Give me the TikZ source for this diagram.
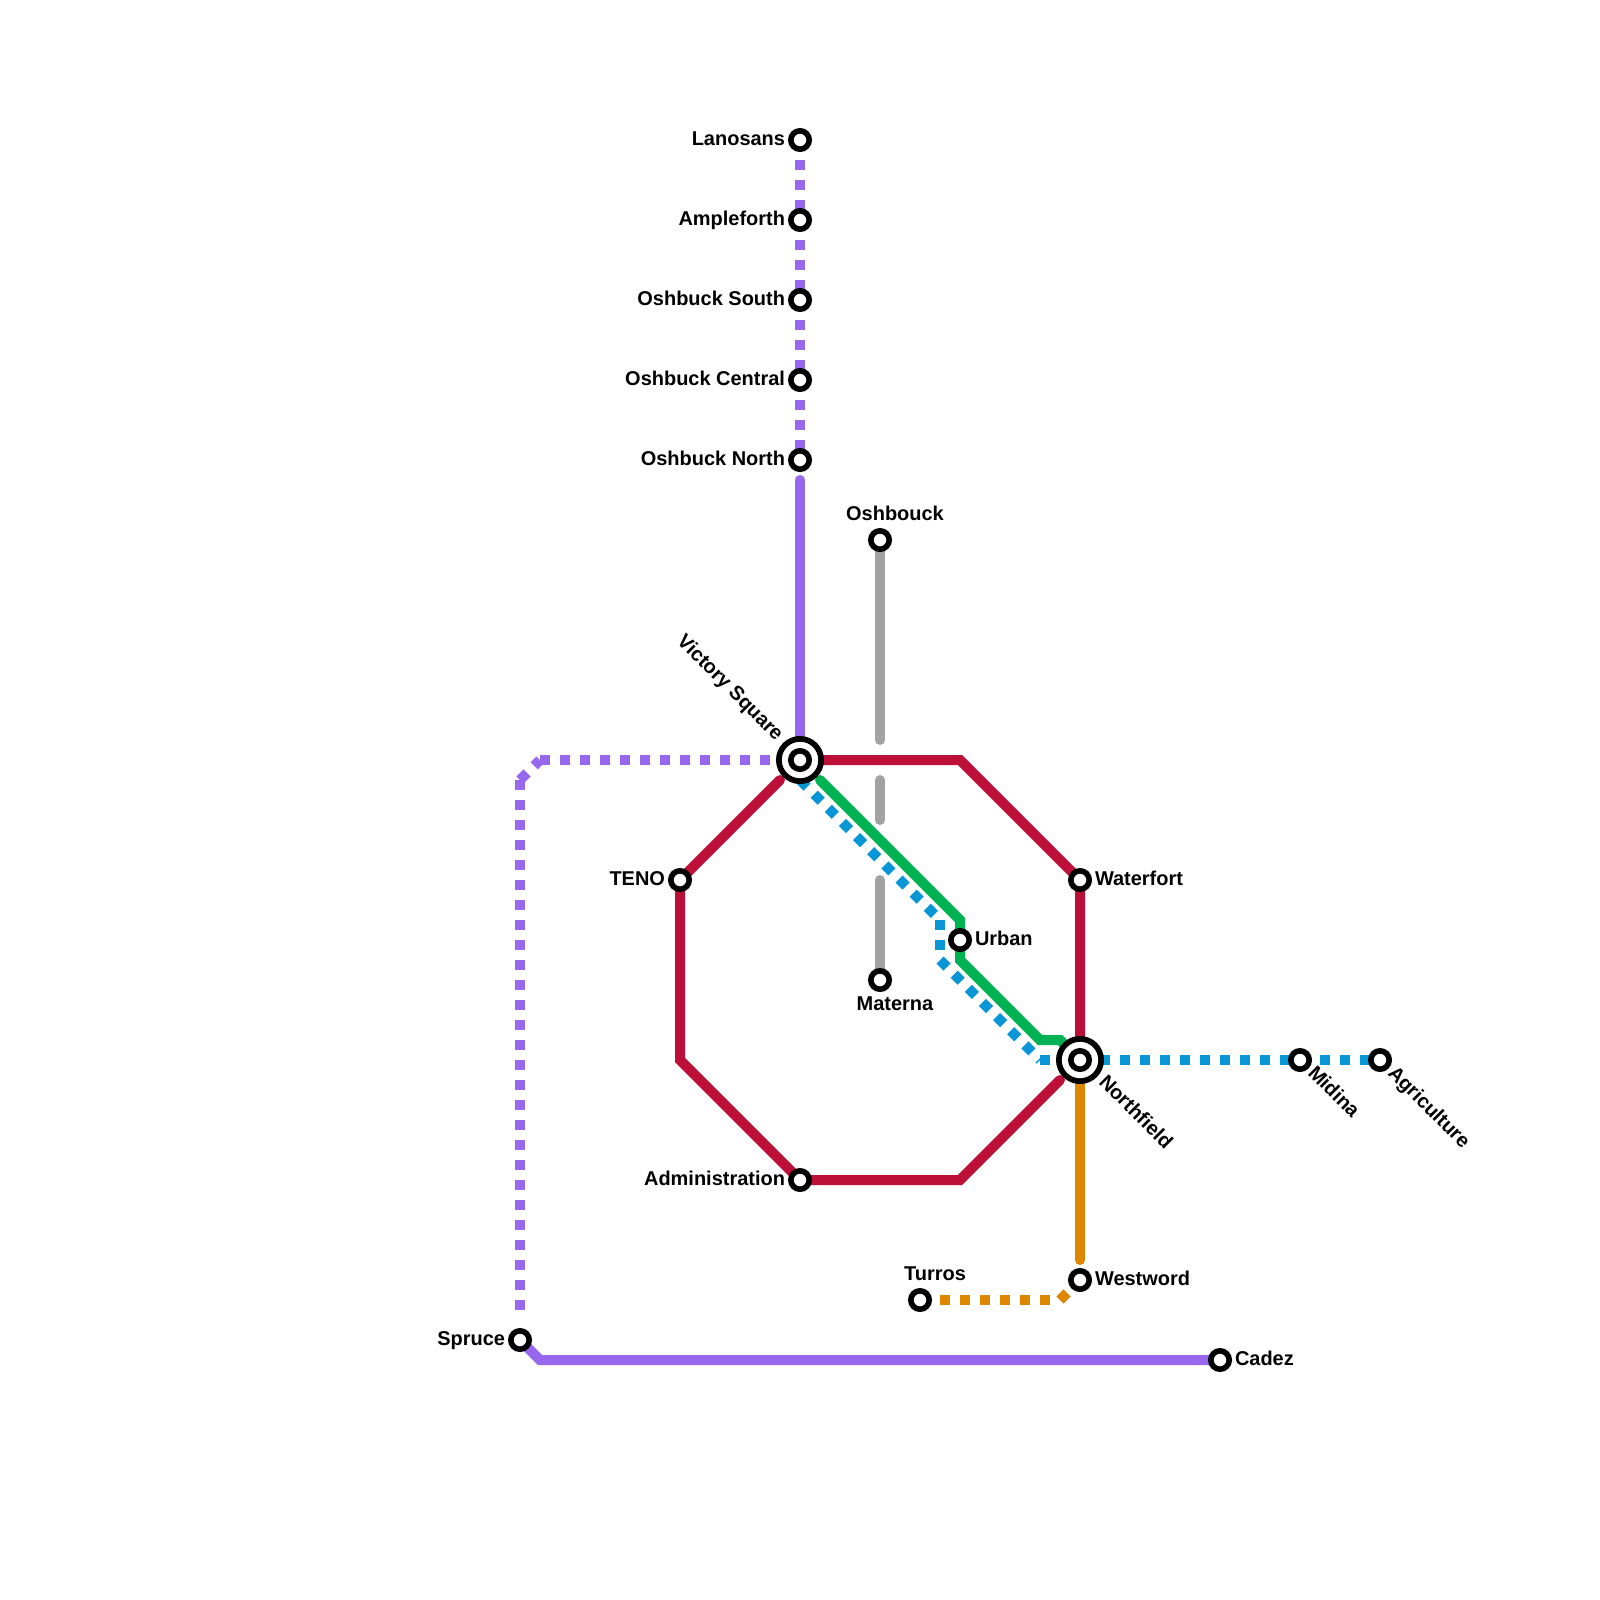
\documentclass[tikz,border=0pt]{standalone}
\usepackage{fontspec}
\setmainfont{Liberation Sans}
\usetikzlibrary{backgrounds}
\definecolor{lpurple}{HTML}{9768EE}
\definecolor{lred}{HTML}{BD1038}
\definecolor{lgreen}{HTML}{00B251}
\definecolor{lblue}{HTML}{0896D7}
\definecolor{lorange}{HTML}{DF8600}
\definecolor{lgray}{HTML}{A2A2A2}
\tikzset{
  solidline/.style={line width=0.25cm,line cap=round,line join=miter},
  dotline/.style={line width=0.25cm,line cap=butt,dash pattern=on 0.25cm off 0.25cm},
  stop/.style={circle,draw=black,fill=white,line width=0.14cm,minimum size=0.46cm,inner sep=0pt,outer sep=0pt},
  hubring/.style={circle,draw=black,fill=white,line width=0.1425cm,minimum size=1.0575cm,inner sep=0pt,outer sep=0pt},
  lab/.style={font=\fontsize{14.2pt}{16pt}\selectfont\bfseries,inner sep=0pt,outer sep=0pt,text=black},
  lr/.style={lab,anchor=base east},
  ll/.style={lab,anchor=base west},
  lc/.style={lab,anchor=base},
}
\begin{document}
\begin{tikzpicture}[x=0.025cm,y=-0.025cm]
\useasboundingbox (0,0) rectangle (1600,1600);
% waypoints
\coordinate (p1) at (540,760);
\coordinate (p2) at (520,780);
\coordinate (p7) at (520,1320);
\coordinate (p3) at (800,780);
\coordinate (p4) at (940,920);
\coordinate (p5) at (940,960);
\coordinate (p6) at (1040,1060);
\coordinate (g1) at (820,780);
\coordinate (g2) at (960,920);
\coordinate (g3) at (960,960);
\coordinate (g4) at (1040,1040);
\coordinate (g5) at (1060,1040);
\coordinate (r1) at (780,780);
\coordinate (r2) at (680,1060);
\coordinate (r3) at (960,1180);
\coordinate (r4) at (1060,1080);
\coordinate (r5) at (820,760);
\coordinate (r6) at (960,760);
\coordinate (r7) at (1080,1040);
\coordinate (v1) at (800,480);
\coordinate (v2) at (800,740);
\coordinate (a1) at (880,740);
\coordinate (a2) at (880,780);
\coordinate (a3) at (880,820);
\coordinate (a4) at (880,880);
\coordinate (o1) at (1080,1260);
\coordinate (o2) at (1060,1300);
\coordinate (s1) at (540,1360);
% stations
\node[hubring] (vichub) at (800,760) {};
\node[stop] (vic) at (800,760) {};
\node[hubring] (norhub) at (1080,1060) {};
\node[stop] (nor) at (1080,1060) {};
\node[stop] (lan) at (800,140) {};
\node[stop] (amp) at (800,220) {};
\node[stop] (oss) at (800,300) {};
\node[stop] (osc) at (800,380) {};
\node[stop] (osn) at (800,460) {};
\node[stop] (osb) at (880,540) {};
\node[stop] (mat) at (880,980) {};
\node[stop] (ten) at (680,880) {};
\node[stop] (adm) at (800,1180) {};
\node[stop] (wat) at (1080,880) {};
\node[stop] (urb) at (960,940) {};
\node[stop] (mid) at (1300,1060) {};
\node[stop] (agr) at (1380,1060) {};
\node[stop] (wes) at (1080,1280) {};
\node[stop] (tur) at (920,1300) {};
\node[stop] (spr) at (520,1340) {};
\node[stop] (cad) at (1220,1360) {};
% connectors
\begin{pgfonlayer}{background}
\draw[dotline,lpurple] (lan.center) -- (osn.center);
\draw[solidline,lpurple] (v1) -- (v2);
\draw[dotline,lpurple] (p1) -- (vic.center);
\draw[dotline,lpurple] (p2) -- (p1);
\draw[dotline,lpurple] (p2) -- (p7);
\draw[solidline,lpurple,line cap=butt] (spr.center) -- (s1) -- (cad.center);
\draw[solidline,lgray] (osb.center) -- (a1);
\draw[solidline,lgray] (a2) -- (a3);
\draw[solidline,lgray] (a4) -- (mat.center);
\draw[dotline,lblue] (p3) -- (p4);
\draw[dotline,lblue] (p4) -- (p5);
\draw[dotline,lblue] (p5) -- (p6);
\draw[dotline,lblue] (p6) -- (agr.center);
\draw[solidline,lgreen] (g1) -- (g2) -- (g3) -- (g4) -- (g5) -- (nor.center);
\draw[solidline,lred] (r1) -- (ten.center) -- (r2) -- (adm.center) -- (r3) -- (r4);
\draw[solidline,lred] (r5) -- (r6) -- (wat.center) -- (r7);
\draw[solidline,lorange] (nor.center) -- (o1);
\draw[dotline,lorange] (tur.center) -- (o2);
\draw[dotline,lorange] (o2) -- (wes.center);
\end{pgfonlayer}
% labels
\node[lr] (tlan) at (785,145.5) {Lanosans};
\node[lr] (tamp) at (785,225.5) {Ampleforth};
\node[lr] (toss) at (785,305.5) {Oshbuck South};
\node[lr] (tosc) at (785,385.5) {Oshbuck Central};
\node[lr] (tosn) at (785,465.5) {Oshbuck North};
\node[lc] (tosb) at (895,520) {Oshbouck};
\node[lc] (tmat) at (895,1010) {Materna};
\node[lr] (tten) at (665,885.5) {TENO};
\node[lr] (tadm) at (785,1185.5) {Administration};
\node[ll] (twat) at (1095,885.5) {Waterfort};
\node[ll] (turb) at (975,945.5) {Urban};
\node[ll] (twes) at (1095,1285.5) {Westword};
\node[lc] (ttur) at (935,1280) {Turros};
\node[lr] (tspr) at (505,1345.5) {Spruce};
\node[ll] (tcad) at (1235,1365.5) {Cadez};
\node[lr,rotate=-45] (tvic) at (775.5,741.5) {Victory Square};
\node[ll,rotate=-45] (tnor) at (1098,1083) {Northfield};
\node[ll,rotate=-45] (tmid) at (1307,1074) {Midina};
\node[ll,rotate=-45] (tagr) at (1387,1074) {Agriculture};
\end{tikzpicture}
\end{document}
